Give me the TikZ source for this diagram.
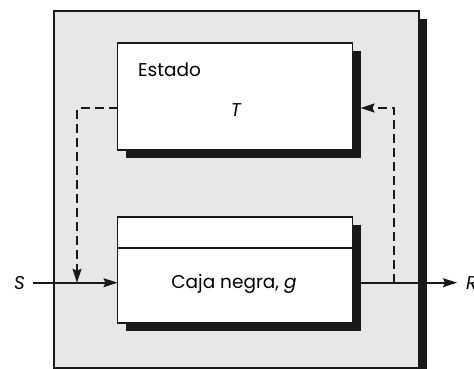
\documentclass[tikz,border=0pt]{standalone}
\usepackage{fontspec}
\setmainfont{Poppins}
\usetikzlibrary{arrows.meta}
\definecolor{panel}{HTML}{E6E7E8}
\tikzset{
  frame/.style={draw=black!90, line width=1.8pt, fill=panel},
  boxw/.style={draw=black!90, line width=1.7pt, fill=white, inner sep=0pt, outer sep=0pt},
  shadowbox/.style={fill=black!90, draw=none, inner sep=0pt, outer sep=0pt},
  flow/.style={line width=1.7pt, draw=black!90, -{Stealth[length=14pt,width=9pt,inset=2pt]}},
  feedback/.style={flow, dash pattern=on 9pt off 5pt},
  lbl/.style={font=\fontsize{18.5}{22}\selectfont, inner sep=0pt}
}
\begin{document}
\begin{tikzpicture}[x=1pt,y=-1pt]
\useasboundingbox (0,0) rectangle (474,369);
% outer panel with shadow
\fill[black!90] (62,19) rectangle (427,380);
\draw[frame] (54,11) rectangle (419,368);
% Estado box
\node[shadowbox, minimum width=235pt, minimum height=107pt] (estadoSh) at (243,104.5) {};
\node[boxw, minimum width=235pt, minimum height=107pt] (estado) at (235,96.5) {};
\node[lbl, anchor=west] (estadoTxt) at (138,70) {Estado};
\node[lbl] (tTxt) at (236,110) {\itshape T};
% Caja box
\node[shadowbox, minimum width=235pt, minimum height=106pt] (cajaSh) at (243,278) {};
\node[boxw, minimum width=235pt, minimum height=106pt] (caja) at (235,270) {};
\draw[draw=black!90, line width=1.7pt] (caja.west |- 0,248.3) coordinate (divL) -- (caja.east |- divL);
\node[lbl] (cajaTxt) at (234,284) {Caja negra, \itshape g};
% signals
\coordinate (sin) at (33,282.7);
\coordinate (rout) at (457,282.7);
\node[lbl, anchor=east] (sLbl) at (25,283) {\itshape S};
\node[lbl, anchor=west] (rLbl) at (466,283) {\itshape R};
\draw[flow] (sin) -- (sin -| caja.west);
\draw[flow] (sin -| cajaSh.east) -- (rout);
% feedback
\coordinate (fbL) at (77,108);
\coordinate (fbR) at (394,108);
\draw[feedback] (estado.west |- fbL) -- (fbL) -- (fbL |- sin);
\draw[feedback] (fbR |- sin) -- (fbR) -- (estadoSh.east |- fbR);
\end{tikzpicture}
\end{document}
